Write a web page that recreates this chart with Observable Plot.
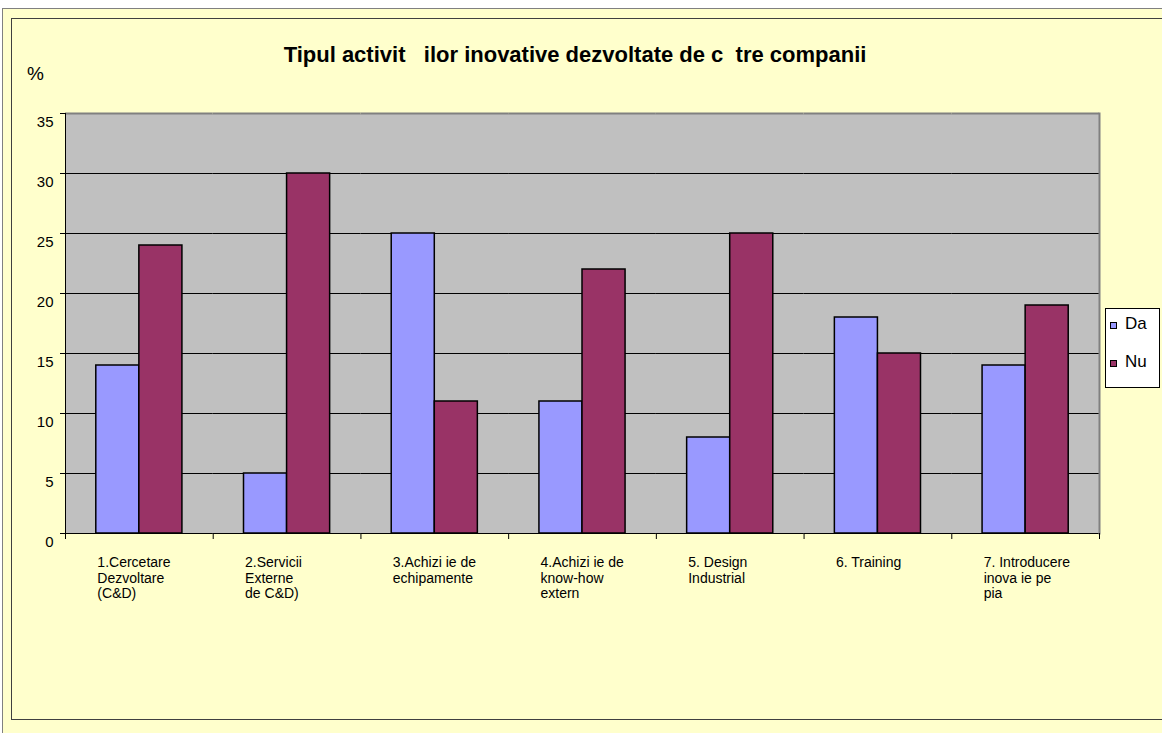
<!DOCTYPE html>
<html><head><meta charset="utf-8">
<script src="https://cdn.jsdelivr.net/npm/d3@7"></script>
<script src="https://cdn.jsdelivr.net/npm/@observablehq/plot@0.6"></script>
<style>
html,body{margin:0;padding:0;background:#fff;}
#page{position:relative;width:1162px;height:733px;overflow:hidden;font-family:Arial,"Liberation Sans",sans-serif;color:#000;}
#outer{position:absolute;left:2px;top:8px;width:1300px;height:800px;background:#FFFFCC;border:1px solid #808080;}
#inner{position:absolute;left:11px;top:18px;width:1300px;height:700px;border:1px solid #404040;}
#title{position:absolute;left:175px;width:800px;top:42px;text-align:center;font-weight:bold;font-size:22px;line-height:25px;white-space:pre;}
#pct{position:absolute;left:27px;top:64px;font-size:19px;line-height:20px;}
#chart{position:absolute;left:0;top:0;}
#legend{position:absolute;left:1105px;top:308px;width:55px;height:80px;box-sizing:border-box;border:1px solid #000;background:#fff;}
.sw{position:absolute;left:4px;width:5px;height:5px;border:1px solid #000;}
.lt{position:absolute;left:19px;font-size:17px;line-height:17px;}
</style></head>
<body>
<div id="page">
  <div id="outer"></div>
  <div id="inner"></div>
  <div id="title">Tipul activit   ilor inovative dezvoltate de c  tre companii</div>
  <div id="pct">%</div>
  <div id="chart"></div>
  <div id="legend"></div>
</div>
<script>
const categories = [
  "1.Cercetare\nDezvoltare\n(C&D)",
  "2.Servicii\nExterne\nde C&D)",
  "3.Achizi ie de\nechipamente",
  "4.Achizi ie de\nknow-how\nextern",
  "5. Design\nIndustrial",
  "6. Training",
  "7. Introducere\ninova ie pe\npia"
];
const seriesNames = ["Da", "Nu"];
const daValues = [14, 5, 25, 11, 8, 18, 14];
const nuValues = [24, 30, 11, 22, 25, 15, 19];
const yTicks = [0, 5, 10, 15, 20, 25, 30, 35];
const seriesColors = ["#9999FF", "#993366"];

const data = categories.flatMap((c, i) => [
  {cat: c, series: seriesNames[0], value: daValues[i]},
  {cat: c, series: seriesNames[1], value: nuValues[i]}
]);

const chart = Plot.plot({
  width: 1162,
  height: 733,
  marginLeft: 65,
  marginRight: 63,
  marginTop: 113,
  marginBottom: 200,
  style: {background: "transparent", fontFamily: "Arial, 'Liberation Sans', sans-serif", color: "#000", overflow: "visible"},
  fx: {domain: categories, padding: 0, round: false, axis: null, label: null},
  x: {domain: seriesNames, paddingInner: 0, paddingOuter: 0.715, round: false, axis: null, label: null},
  y: {domain: [0, 35], axis: null, label: null},
  color: {domain: seriesNames, range: seriesColors},
  marks: [
    Plot.frame({fill: "#C0C0C0", shapeRendering: "crispEdges"}),
    Plot.ruleY(yTicks.filter(d => d > 0 && d < 35), {stroke: "#000", strokeWidth: 1}),
    Plot.ruleY([35], {stroke: "#808080", strokeWidth: 2}),
    Plot.barY(data, {fx: "cat", x: "series", y: "value", fill: "series", stroke: "#000", strokeWidth: 1.5}),
    Plot.ruleY([0], {stroke: "#000", strokeWidth: 1}),
    Plot.frame({anchor: "left", stroke: "#000", insetTop: 420, insetBottom: -5}),
    Plot.frame({facet: "super", anchor: "right", stroke: "#808080", strokeWidth: 2}),
    Plot.frame({facet: "super", anchor: "right", stroke: "#000", insetTop: 420, insetBottom: -5}),
    Plot.frame({facet: "super", anchor: "left", stroke: "#000"}),
    Plot.axisY(yTicks, {tickSize: 5, tickFormat: () => "", stroke: "#000", label: null}),
    Plot.axisY(yTicks, {tickSize: 0, tickPadding: 12, dy: 9, fontSize: 15, fill: "#000", label: null}),
    Plot.text(categories, {fx: d => d, text: d => d, frameAnchor: "bottom", textAnchor: "start", lineAnchor: "top", dx: -42, dy: 23, fontSize: 14, lineHeight: 1.1, fill: "#000"})
  ]
});
document.getElementById("chart").appendChild(chart);

const legend = document.getElementById("legend");
seriesNames.forEach((s, i) => {
  const sw = document.createElement("div");
  sw.className = "sw";
  sw.style.top = (13 + i * 38) + "px";
  sw.style.background = seriesColors[i];
  legend.appendChild(sw);
  const t = document.createElement("div");
  t.className = "lt";
  t.style.top = (6 + i * 38) + "px";
  t.textContent = s;
  legend.appendChild(t);
});
</script>
</body></html>
